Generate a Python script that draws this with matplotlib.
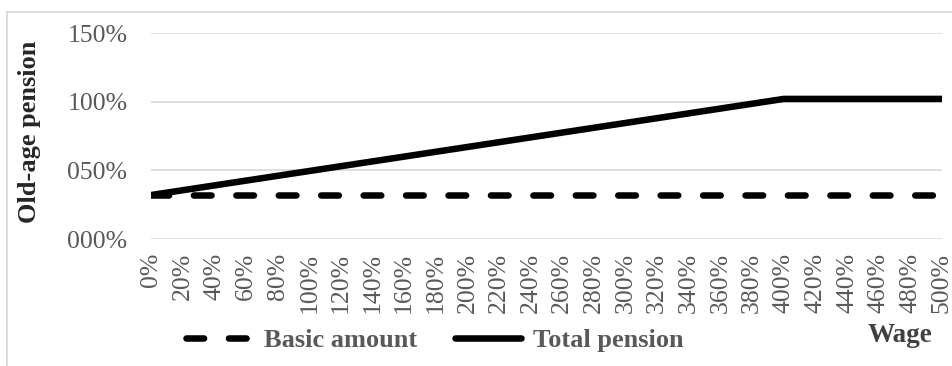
import matplotlib
matplotlib.use('Agg')
import matplotlib.pyplot as plt
from matplotlib.patches import Rectangle

plt.rcParams['font.family'] = ['Liberation Serif', 'DejaVu Serif']

# Wage levels (% of average wage) and pension (% of average wage)
wage = [0, 20, 40, 60, 80, 100, 120, 140, 160, 180, 200, 220, 240,
        260, 280, 300, 320, 340, 360, 380, 400, 420, 440, 460, 480, 500]
basic_amount = [32] * 26
total_pension = [32, 35.5, 39, 42.5, 46, 49.5, 53, 56.5, 60, 63.5, 67,
                 70.5, 74, 77.5, 81, 84.5, 88, 91.5, 95, 98.5, 102,
                 102, 102, 102, 102, 102]
y_ticks = [0, 50, 100, 150]

W, H = 953, 366
fig = plt.figure(figsize=(W / 100, H / 100), dpi=100)

# light chart-area border (left and top visible)
fig.patches.append(Rectangle((7 / W, -0.1), 2, (H - 12) / H + 0.1,
                             transform=fig.transFigure, fill=False,
                             edgecolor='#d9d9d9', linewidth=1.3))

ax = fig.add_axes([151 / W, (H - 239) / H, (942 - 151) / W, 206 / H])

grey = '#595959'
ax.plot(wage, basic_amount, color='black', linewidth=4.7,
        linestyle=(0, (2.7, 3.8)), dash_capstyle='round',
        label='Basic amount')
ax.plot(wage, total_pension, color='black', linewidth=4.7,
        solid_capstyle='round', label='Total pension')

ax.set_xlim(0, 500)
ax.set_ylim(0, 150)
ax.set_xticks(wage)
ax.set_xticklabels([f'{w}%' for w in wage], rotation=90)
ax.set_yticks(y_ticks)
ax.set_yticklabels([f'{v:03d}%' for v in y_ticks])
ax.tick_params(axis='both', length=0, labelsize=18.5, labelcolor=grey)
ax.tick_params(axis='x', pad=10)
ax.tick_params(axis='y', pad=17)
ax.grid(axis='y', color='#d9d9d9', linewidth=1.2)
ax.set_axisbelow(True)
for s in ax.spines.values():
    s.set_visible(False)

fig.text(30 / W, 1 - 132 / H, 'Old-age pension', rotation=90,
         ha='center', va='center', fontsize=19, fontweight='bold',
         color='#262626')
fig.text(900 / W, 1 - 336 / H, 'Wage', ha='center', va='center',
         fontsize=19.5, fontweight='bold', color='#404040')

leg = fig.legend(loc='center left', bbox_to_anchor=(186 / W, 1 - 340 / H),
                 ncol=2, frameon=False, borderpad=0, borderaxespad=0,
                 handlelength=2.5, handletextpad=0.45, columnspacing=1.45,
                 prop={'size': 19, 'weight': 'bold'})
for t in leg.get_texts():
    t.set_color(grey)

fig.savefig('out.png', dpi=100)
